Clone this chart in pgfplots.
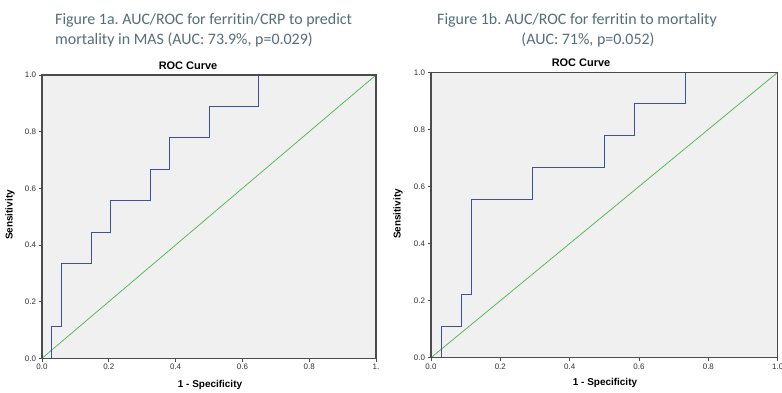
\documentclass[border=0pt]{standalone}
\usepackage{pgfplots}
\pgfplotsset{compat=1.18}
\usepackage{fontspec}
\setmainfont{Liberation Sans}
\newfontfamily\titlefont[Ligatures=NoCommon]{Carlito}
\definecolor{titlecol}{RGB}{84,110,124}
\definecolor{roc}{RGB}{62,80,158}
\definecolor{refl}{RGB}{70,180,80}
\definecolor{bgc}{RGB}{240,240,240}
\definecolor{axc}{RGB}{75,75,75}
\definecolor{tickc}{RGB}{50,50,50}
\pgfplotsset{
  rocaxis/.style={
    scale only axis, xmin=0, xmax=1, ymin=0, ymax=1,
    axis background/.style={fill=bgc},
    axis line style={axc, line width=1.3bp},
    axis on top,
    xtick={0,0.2,0.4,0.6,0.8,1}, ytick={0,0.2,0.4,0.6,0.8,1},
    yticklabels={0.0,0.2,0.4,0.6,0.8,1.0},
    tick align=outside, tick pos=left,
    major tick length=3.5bp,
    every tick/.style={axc, line width=0.8bp},
    ticklabel style={font=\fontsize{8}{9}\selectfont, text=tickc},
    /pgf/number format/assume math mode=true,
    xticklabel shift=-1bp, yticklabel shift=-1bp,
  }
}
\begin{document}
\frenchspacing
\begin{tikzpicture}
\useasboundingbox (0,0) rectangle (782bp,393bp);
\clip (0,0) rectangle (782bp,393bp);
\fill[white] (0,0) rectangle (782bp,393bp);
% titles
\node[anchor=base west, align=left, text=titlecol, font=\titlefont\fontsize{16}{20}\selectfont, inner sep=0pt] at (55bp,368bp) {Figure 1a. AUC/ROC for ferritin/CRP to predict};
\node[anchor=base west, align=left, text=titlecol, font=\titlefont\fontsize{16}{20}\selectfont, inner sep=0pt] at (55bp,348bp) {mortality in MAS (AUC: 73.9\%, p=0.029)};
\node[anchor=base, text=titlecol, font=\titlefont\fontsize{16}{20}\selectfont, inner sep=0pt] at (577bp,368bp) {Figure 1b. AUC/ROC for ferritin to mortality};
\node[anchor=base, text=titlecol, font=\titlefont\fontsize{16}{20}\selectfont, inner sep=0pt] at (588bp,348bp) {(AUC: 71\%, p=0.052)};
% chart titles and labels
\node[anchor=base, font=\bfseries\fontsize{11}{12}\selectfont, inner sep=0pt] at (188bp,323bp) {ROC Curve};
\node[anchor=base, font=\bfseries\fontsize{11}{12}\selectfont, inner sep=0pt] at (581bp,326bp) {ROC Curve};
\node[font=\bfseries\fontsize{10}{12}\selectfont, inner sep=0pt] at (210bp,8bp) {1 - Specificity};
\node[font=\bfseries\fontsize{10}{12}\selectfont, inner sep=0pt] at (605bp,10bp) {1 - Specificity};
\node[rotate=90, font=\bfseries\fontsize{10}{12}\selectfont, inner sep=0pt] at (10bp,178bp) {Sensitivity};
\node[rotate=90, font=\bfseries\fontsize{10}{12}\selectfont, inner sep=0pt] at (398bp,179bp) {Sensitivity};
% left
\begin{axis}[rocaxis, at={(42bp,34.7bp)}, anchor=south west, width=334bp, height=283.3bp,
  xticklabels={0.0,0.2,0.4,0.6,0.8,1.}]
\addplot[refl, line width=0.7bp] coordinates {(0,0) (1,1)};
\addplot[roc, line width=1bp, const plot] coordinates {
(0,0) (0.0294,0.111) (0.0588,0.333) (0.1471,0.444) (0.2059,0.556) (0.3235,0.667) (0.3824,0.778) (0.5,0.889) (0.6471,1) (1,1)};
\end{axis}
% right
\begin{axis}[rocaxis, at={(431bp,35.3bp)}, anchor=south west, width=346.7bp, height=285.4bp,
  xticklabels={0.0,0.2,0.4,0.6,0.8,1.0}]
\addplot[refl, line width=0.7bp] coordinates {(0,0) (1,1)};
\addplot[roc, line width=1bp, const plot] coordinates {
(0,0) (0.0294,0.111) (0.0882,0.222) (0.1176,0.556) (0.2941,0.667) (0.5,0.778) (0.5882,0.889) (0.7353,1) (1,1)};
\end{axis}
\end{tikzpicture}
\end{document}
